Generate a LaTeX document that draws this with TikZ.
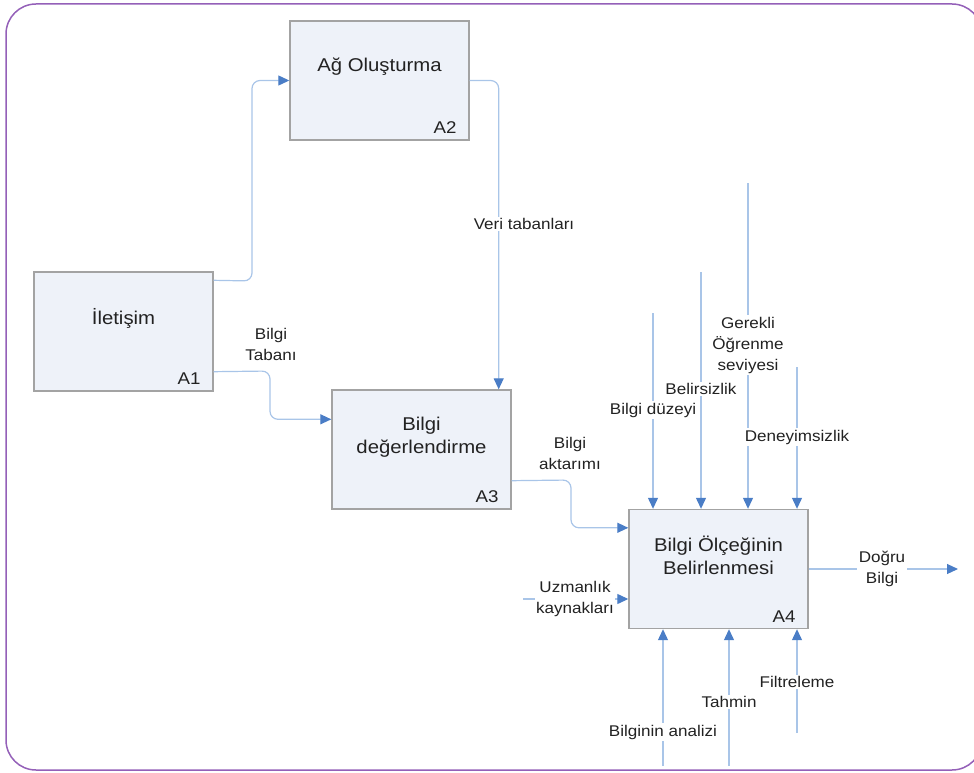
\documentclass[tikz,border=0pt]{standalone}
\usepackage{fontspec}
\setmainfont{Liberation Sans}[FakeStretch=1.1]
\usetikzlibrary{arrows.meta,calc}
\definecolor{boxfill}{HTML}{EEF2F9}
\definecolor{boxline}{HTML}{A3A3A3}
\definecolor{flowline}{HTML}{A9C5E8}
\definecolor{arrowblue}{HTML}{4A7DC6}
\definecolor{frame}{HTML}{9460B8}
\definecolor{txt}{HTML}{222222}
\tikzset{
  procbox/.style={draw=boxline, fill=boxfill, line width=1.4pt, minimum width=179pt, minimum height=119pt, inner sep=0pt},
  boxtext/.style={align=center, text=txt, font=\fontsize{18.5}{23}\selectfont, inner sep=0pt},
  numtext/.style={text=txt, font=\fontsize{17}{20}\selectfont, inner sep=0pt},
  lbl/.style={align=center, text=txt, font=\fontsize{15.5}{21}\selectfont, fill=white, inner sep=1.5pt},
  flow/.style={draw=flowline, line width=1.2pt, rounded corners=8pt,
    -{Triangle[length=11pt,width=10pt,color=arrowblue,fill=arrowblue]}},
}
\begin{document}
\begin{tikzpicture}[x=1pt,y=-1pt]
\useasboundingbox (0,0) rectangle (974,773);
\draw[frame, line width=1.5pt, rounded corners=30pt] (6,4) rectangle (982,770);

% boxes
\node[procbox] (A2) at (379.5,80.5) {};
\node[procbox] (A1) at (123.5,331.5) {};
\node[procbox] (A3) at (421.5,449.5) {};
\node[procbox] (A4) at (718.5,569) {};

% box texts
\node[boxtext] (A2t) at (379.5,67) {Ağ Oluşturma};
\node[boxtext] (A1t) at (123.5,318) {İletişim};
\node[boxtext] (A3t) at (421.5,437) {Bilgi\\değerlendirme};
\node[boxtext] (A4t) at (718.5,555) {Bilgi Ölçeğinin\\Belirlenmesi};

\node[numtext, anchor=base east] (A2n) at ($(A2.south east)+(-13,-7)$) {A2};
\node[numtext, anchor=base east] (A1n) at ($(A1.south east)+(-13,-7)$) {A1};
\node[numtext, anchor=base east] (A3n) at ($(A3.south east)+(-13,-7)$) {A3};
\node[numtext, anchor=base east] (A4n) at ($(A4.south east)+(-13,-7)$) {A4};

% connectors between boxes
\draw[flow] ($(A1.north east)+(0,9)$) -- (252,281) |- (A2.west);
\draw[flow] (A2.east) -| ($(A3.north east)+(-13,0)$);
\draw[flow] ($(A1.south east)+(0,-20)$) -- (270,371) |- ($(A3.north west)+(0,30)$);
\draw[flow] ($(A3.south east)+(0,-29)$) -- (571,480) |- ($(A4.north west)+(0,19)$);

% controls
\coordinate (c1) at (653,313);
\coordinate (c2) at (701,272);
\coordinate (c3) at (748,183);
\coordinate (c4) at (797,367);
\draw[flow] (c1) -- (c1 |- A4.north);
\draw[flow] (c2) -- (c2 |- A4.north);
\draw[flow] (c3) -- (c3 |- A4.north);
\draw[flow] (c4) -- (c4 |- A4.north);

% input / output
\coordinate (u1) at (523,599);
\coordinate (o1) at (958,569);
\draw[flow] (u1) -- (u1 -| A4.west);
\draw[flow] (A4.east) -- (o1);

% mechanisms
\coordinate (m1) at (663,766);
\coordinate (m2) at (729,766);
\coordinate (m3) at (797,733);
\draw[flow] (m1) -- (m1 |- A4.south);
\draw[flow] (m2) -- (m2 |- A4.south);
\draw[flow] (m3) -- (m3 |- A4.south);

% labels
\node[lbl] (Lveri) at (524,224) {Veri tabanları};
\node[lbl] (Ltaban) at (271,344) {Bilgi\\Tabanı};
\node[lbl] (Laktar) at (570,453) {Bilgi\\aktarımı};
\node[lbl] (Lduzey) at (653,410) {Bilgi düzeyi};
\node[lbl] (Lbelir) at (701,389) {Belirsizlik};
\node[lbl] (Lgerek) at (748,345) {Gerekli\\Öğrenme\\seviyesi};
\node[lbl] (Ldeney) at (797,437) {Deneyimsizlik};
\node[lbl] (Luzman) at (575,599) {Uzmanlık\\kaynakları};
\node[lbl] (Ldogru) at (882,569) {Doğru\\Bilgi};
\node[lbl] (Lanal) at (663,732) {Bilginin analizi};
\node[lbl] (Ltahm) at (729,702) {Tahmin};
\node[lbl] (Lfilt) at (797,682) {Filtreleme};
\end{tikzpicture}
\end{document}
